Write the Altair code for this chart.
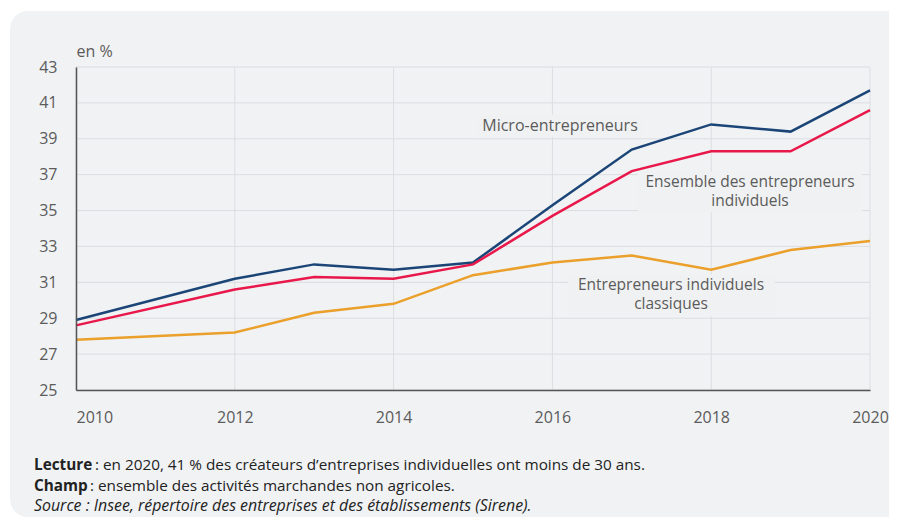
import altair as alt
import pandas as pd

years = [2010, 2012, 2013, 2014, 2015, 2016, 2017, 2018, 2019, 2020]
micro = [28.9, 31.2, 32.0, 31.7, 32.1, 35.3, 38.4, 39.8, 39.4, 41.7]
ensemble = [28.6, 30.6, 31.3, 31.2, 32.0, 34.7, 37.2, 38.3, 38.3, 40.6]
classiques = [27.8, 28.2, 29.3, 29.8, 31.4, 32.1, 32.5, 31.7, 32.8, 33.3]

series_names = ["Micro-entrepreneurs", "Ensemble des entrepreneurs individuels",
                "Entrepreneurs individuels classiques"]
series_colors = ["#1b4577", "#e8184a", "#eaa02a"]
x_ticks = [2010, 2012, 2014, 2016, 2018, 2020]
y_ticks = [25, 27, 29, 31, 33, 35, 37, 39, 41, 43]

rows = []
for name, vals in zip(series_names, [micro, ensemble, classiques]):
    for yr, v in zip(years, vals):
        rows.append({"annee": yr, "valeur": v, "serie": name})
df = pd.DataFrame(rows)

FONT = "Open Sans"
TXT = "#5b5b5b"
CARD = "#f1f2f4"
GRID = "#dcdde1"
W, H = 794, 323
one = pd.DataFrame({"k": [0]})

xscale = alt.Scale(domain=[2010, 2020], nice=False)
yscale = alt.Scale(domain=[25, 43], nice=False, zero=False)

xaxis = alt.Axis(values=x_ticks, format="d", title=None, tickSize=0, grid=False,
                 labelPadding=19, labelFlush=False, zindex=1, labelOverlap=False,
                 labelAlign=alt.ExprRef("datum.value == 2010 ? 'left' : 'center'"),
                 domainColor="#555555", domainWidth=1.5)
yaxis = alt.Axis(values=y_ticks, title="en %", titleAngle=0, titleAlign="left",
                 titleX=0, titleY=-11, titleBaseline="alphabetic",
                 titleFontWeight="normal", titleFontSize=16, titleColor=TXT,
                 titleFont=FONT, tickSize=0, labelPadding=19, grid=False, zindex=1,
                 labelOverlap=False, domainColor="#555555", domainWidth=1.5)

card = alt.Chart(one).mark_rect(color=CARD, cornerRadius=18).encode(
    x=alt.value(-66), x2=alt.value(840), y=alt.value(-56), y2=alt.value(450))

grid_y = alt.Chart(pd.DataFrame({"v": y_ticks})).mark_rule(color=GRID, strokeWidth=1).encode(
    y=alt.Y("v:Q", scale=yscale, axis=yaxis))
grid_x = alt.Chart(pd.DataFrame({"v": x_ticks})).mark_rule(color=GRID, strokeWidth=1).encode(
    x=alt.X("v:Q", scale=xscale, axis=xaxis))

lines = alt.Chart(df).mark_line(strokeWidth=2.5).encode(
    x=alt.X("annee:Q", scale=xscale, axis=xaxis),
    y=alt.Y("valeur:Q", scale=yscale, axis=yaxis),
    color=alt.Color("serie:N", scale=alt.Scale(domain=series_names, range=series_colors),
                    legend=None),
)

def box(x1, x2, y1, y2):
    return alt.Chart(one).mark_rect(color="#f0f1f2").encode(
        x=alt.value(x1 - 76), x2=alt.value(x2 - 76), y=alt.value(y1 - 67), y2=alt.value(y2 - 67))

def label(txt, x, y, align="center", weight="normal", style="normal", size=16, color=TXT,
          baseline="middle"):
    return alt.Chart(one).mark_text(align=align, baseline=baseline, font=FONT, fontSize=size,
                                    fontWeight=weight, fontStyle=style, color=color,
                                    lineHeight=19).encode(
        x=alt.value(x - 76), y=alt.value(y - 67), text=alt.value(txt))

FT = "#222222"
FS = 15.3
layers = [
    card,
    grid_y,
    grid_x,
    lines,
    box(478, 642, 115, 137),
    box(638, 862, 172, 212),
    box(568, 775, 275, 316),
    label("Micro-entrepreneurs", 560, 126),
    label(["Ensemble des entrepreneurs", "individuels"], 750, 175, baseline="top", size=15.5),
    label(["Entrepreneurs individuels", "classiques"], 671, 278, baseline="top", size=15.5),
    label("Lecture", 34, 465, align="left", weight="bold", size=FS, color=FT),
    label(": en 2020, 41 % des créateurs d’entreprises individuelles ont moins de 30 ans.",
          95, 465, align="left", size=FS, color=FT),
    label("Champ", 34, 486, align="left", weight="bold", size=FS, color=FT),
    label(": ensemble des activités marchandes non agricoles.", 90, 486, align="left",
          size=FS, color=FT),
    label("Source : Insee, répertoire des entreprises et des établissements (Sirene).",
          34, 506, align="left", style="italic", size=15.9, color=FT),
]

chart = alt.layer(*layers).properties(
    width=W, height=H,
    autosize=alt.AutoSizeParams(type="none"),
    padding={"left": 68, "top": 59, "right": 19, "bottom": 127},
    background="white",
).configure_view(stroke=None).configure_axis(
    labelFont=FONT, labelFontSize=16, labelColor=TXT,
)

chart.save("out.html", embed_options={"renderer": "svg", "actions": False})
